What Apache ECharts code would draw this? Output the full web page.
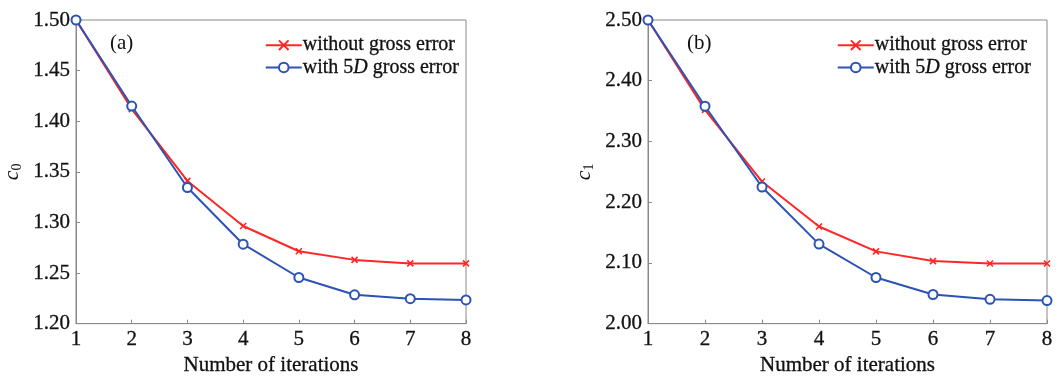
<!DOCTYPE html>
<html>
<head>
<meta charset="utf-8">
<script src="https://cdn.jsdelivr.net/npm/echarts@6/dist/echarts.min.js"></script>
<style>
html, body { margin: 0; padding: 0; background: #fff; }
#main { width: 1063px; height: 381px; }
</style>
</head>
<body>
<div id="main"></div>
<script>
// data
var iterations = [1, 2, 3, 4, 5, 6, 7, 8];
var c0Clean = [1.500, 1.412, 1.341, 1.2965, 1.2715, 1.263, 1.2595, 1.2595];
var c0Gross = [1.500, 1.415, 1.3345, 1.2785, 1.2456, 1.2285, 1.2247, 1.2234];
var c1Clean = [2.500, 2.352, 2.234, 2.160, 2.119, 2.103, 2.099, 2.099];
var c1Gross = [2.500, 2.358, 2.225, 2.131, 2.076, 2.048, 2.040, 2.038];

var nameClean = 'without gross error';
var nameGross = 'with 5D gross error';

var RED = '#ff2626';
var BLUE = '#2c53b4';
var FONT = 'Liberation Serif';
var INK = '#111';

function pairs(ys) {
    var out = [];
    for (var i = 0; i < iterations.length; i++) {
        out.push([iterations[i], ys[i]]);
    }
    return out;
}

var crossPath = 'path://M0,0L10,10M10,0L0,10';

function xAxisFor(idx) {
    return {
        type: 'value', gridIndex: idx, min: 1, max: 8, interval: 1,
        name: 'Number of iterations', nameLocation: 'middle', nameGap: 27,
        nameTextStyle: { fontFamily: FONT, fontSize: 21, color: INK, textBorderColor: INK, textBorderWidth: 0.3 },
        axisLine: { show: true, lineStyle: { color: '#8a8a8a', width: 1 } },
        axisTick: { show: true, inside: true, length: 4, lineStyle: { color: '#8a8a8a' } },
        axisLabel: { fontFamily: FONT, fontSize: 21, color: INK, margin: 5, textBorderColor: INK, textBorderWidth: 0.3 },
        splitLine: { show: false }
    };
}

function yAxisFor(idx, min, max, interval, sub, gap) {
    return {
        type: 'value', gridIndex: idx, min: min, max: max, interval: interval,
        name: '{c|c}{s|' + sub + '}', nameLocation: 'middle', nameGap: gap,
        nameTextStyle: {
            rich: {
                c: { fontFamily: FONT, fontStyle: 'italic', fontSize: 22, color: INK },
                s: { fontFamily: FONT, fontSize: 14, color: INK, padding: [10, 0, 0, 0] }
            }
        },
        axisLine: { show: true, lineStyle: { color: '#8a8a8a', width: 1 } },
        axisTick: { show: true, inside: true, length: 4, lineStyle: { color: '#8a8a8a' } },
        axisLabel: {
            fontFamily: FONT, fontSize: 21, color: INK, margin: 6,
            textBorderColor: INK, textBorderWidth: 0.3,
            formatter: function (v) { return v.toFixed(2); }
        },
        splitLine: { show: false }
    };
}

function legendFor(right) {
    return {
        top: 30, right: right, orient: 'vertical', itemGap: 2,
        itemWidth: 36, itemHeight: 12,
        data: [nameClean, nameGross],
        textStyle: {
            fontFamily: FONT, fontSize: 20, color: INK, padding: [0, 0, 0, -4],
            rich: {
                n: { fontFamily: FONT, fontSize: 20, color: INK, textBorderColor: INK, textBorderWidth: 0.3 },
                i: { fontFamily: FONT, fontSize: 20, color: INK, fontStyle: 'italic', textBorderColor: INK, textBorderWidth: 0.3 }
            }
        },
        formatter: function (name) {
            if (name === nameGross) return '{n|with 5}{i|D}{n| gross error}';
            return '{n|' + name + '}';
        }
    };
}

function cleanSeries(idx, ys) {
    return {
        name: nameClean, type: 'line', xAxisIndex: idx, yAxisIndex: idx,
        data: pairs(ys), symbol: crossPath, symbolSize: 6,
        lineStyle: { color: RED, width: 2 },
        itemStyle: { color: RED, borderColor: RED, borderWidth: 1.6 }
    };
}

function grossSeries(idx, ys) {
    return {
        name: nameGross, type: 'line', xAxisIndex: idx, yAxisIndex: idx,
        data: pairs(ys), symbol: 'emptyCircle', symbolSize: 9,
        lineStyle: { color: BLUE, width: 2 },
        itemStyle: { color: BLUE, borderColor: BLUE, borderWidth: 2 }
    };
}

var myChart = echarts.init(document.getElementById('main'));

myChart.setOption({
    animation: false,
    backgroundColor: '#fff',
    grid: [
        { left: 73, right: 597, top: 20, bottom: 45, show: true, borderColor: '#8a8a8a', borderWidth: 1 },
        { left: 648, right: 16, top: 20, bottom: 45, show: true, borderColor: '#8a8a8a', borderWidth: 1 }
    ],
    xAxis: [xAxisFor(0), xAxisFor(1)],
    yAxis: [
        yAxisFor(0, 1.2, 1.5, 0.05, '0', 52),
        yAxisFor(1, 2.0, 2.5, 0.1, '1', 52)
    ],
    legend: [legendFor(1063 - 464), legendFor(27)],
    graphic: [
        { type: 'text', left: 110, top: 33, style: { text: '(a)', font: '21px "Liberation Serif"', fill: INK } },
        { type: 'text', left: 687, top: 33, style: { text: '(b)', font: '21px "Liberation Serif"', fill: INK } }
    ],
    series: [
        cleanSeries(0, c0Clean),
        grossSeries(0, c0Gross),
        cleanSeries(1, c1Clean),
        grossSeries(1, c1Gross)
    ]
});
</script>
</body>
</html>
